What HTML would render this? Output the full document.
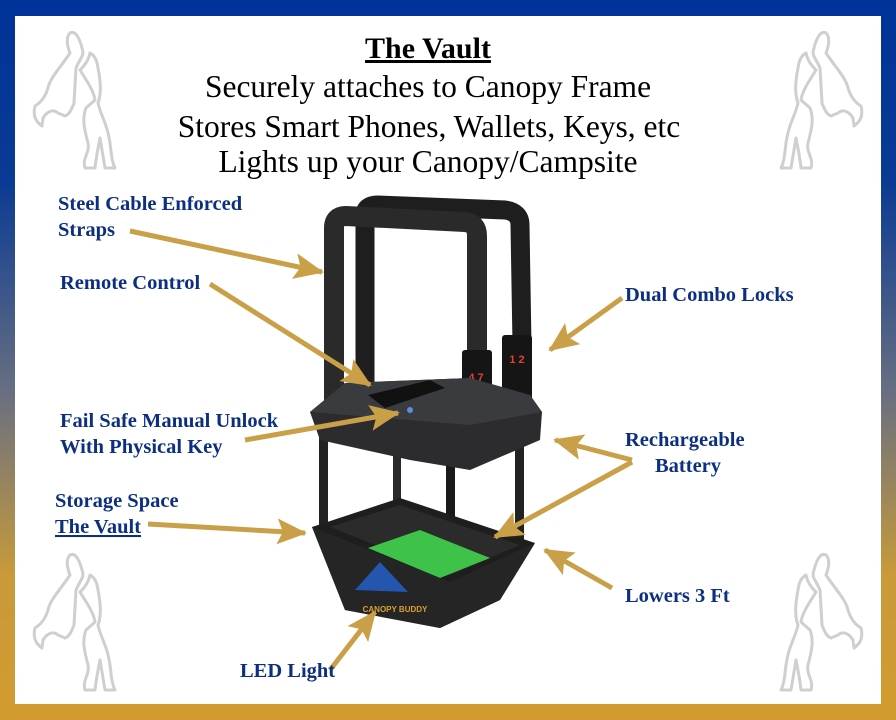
<!DOCTYPE html>
<html><head><meta charset="utf-8"><style>
html,body{margin:0;padding:0}
body{width:896px;height:720px;overflow:hidden;background:linear-gradient(180deg,#003399 0%,#0a3a94 25%,#6a7080 55%,#c89a3a 80%,#d39b2e 100%);position:relative}
.panel{position:absolute;left:15px;top:16px;width:866px;height:688px;background:#fff}
svg{position:absolute;left:0;top:0}
</style></head><body>
<div class="panel"></div>
<svg width="896" height="720" viewBox="0 0 896 720">
<defs>
<marker id="ah" markerUnits="userSpaceOnUse" markerWidth="30" markerHeight="26" refX="28" refY="13" orient="auto">
<path d="M0,0 L30,13 L0,26 L6,13 Z" fill="#c9a048"/>
</marker>
<g id="horse" fill="none" stroke="#cfcfcf" stroke-width="3" stroke-linejoin="round">
<path d="M60,25 C55,30 58,40 60,45 C50,60 40,70 38,80 C35,90 30,95 25,98 C22,110 28,115 32,118 L33,110 C36,105 42,100 48,105 L55,108 C60,106 62,100 64,95 L66,60 C70,50 75,48 72,40 C70,32 66,22 60,25 Z"/>
<path d="M80,45 C78,55 72,60 70,62 L75,70 C80,78 84,85 85,92 L76,100 C72,110 74,120 78,135 C80,145 72,150 75,160 L85,160 C86,150 88,140 90,130 L95,160 L105,160 C100,150 102,140 98,125 C96,115 90,105 88,95 C92,85 90,70 88,60 C87,52 84,47 80,45 Z"/>
</g>
</defs>
<use href="#horse" transform="translate(10,8)"/>
<use href="#horse" transform="translate(10,530)"/>
<use href="#horse" transform="translate(886,8) scale(-1,1)"/>
<use href="#horse" transform="translate(886,530) scale(-1,1)"/>

<g font-family="Liberation Serif, serif" text-anchor="middle" fill="#000">
<text x="428" y="58" font-size="30" font-weight="bold" text-decoration="underline">The Vault</text>
<text x="428" y="97" font-size="31.5">Securely attaches to Canopy Frame</text>
<text x="429" y="137" font-size="31.5">Stores Smart Phones, Wallets, Keys, etc</text>
<text x="428" y="172" font-size="31.5">Lights up your Canopy/Campsite</text>
</g>

<!-- product -->
<g>
<path d="M365,420 L365,215 Q365,205 378,205 L505,210 Q520,212 520,225 L522,345" fill="none" stroke="#1e1e1e" stroke-width="19"/>
<path d="M334,420 L334,228 Q334,216 346,216 L465,222 Q477,223 477,236 L477,360" fill="none" stroke="#2a2a2a" stroke-width="20"/>
<rect x="462" y="350" width="30" height="65" rx="3" fill="#151515"/>
<rect x="502" y="335" width="30" height="65" rx="3" fill="#151515"/>
<text x="476" y="381" font-family="Liberation Sans, sans-serif" font-size="11" fill="#e04030" text-anchor="middle" font-weight="bold">4 7</text>
<text x="517" y="363" font-family="Liberation Sans, sans-serif" font-size="11" fill="#e04030" text-anchor="middle" font-weight="bold">1 2</text>
<rect x="319" y="435" width="9" height="95" fill="#222"/>
<rect x="393" y="455" width="8" height="60" fill="#2a2a2a"/>
<rect x="446" y="455" width="9" height="125" fill="#1a1a1a"/>
<rect x="515" y="435" width="9" height="105" fill="#222"/>
<path d="M345,383 L470,378 L530,395 L542,412 L540,440 L470,470 L410,460 L320,440 L310,412 Z" fill="#2c2c2e"/>
<path d="M345,383 L470,378 L530,395 L542,412 L470,425 L310,412 Z" fill="#3a3b3f"/>
<path d="M368,395 L430,380 L445,388 L385,408 Z" fill="#111"/>
<circle cx="410" cy="410" r="3" fill="#5b8fd6"/>
<path d="M312,527 L400,498 L535,543 L500,600 L440,628 L345,610 Z" fill="#1e1e1e"/>
<path d="M330,527 L400,505 L520,545 L450,575 Z" fill="#2b2b2b"/>
<path d="M368,548 L420,530 L490,558 L440,578 Z" fill="#3fc24a"/>
<path d="M312,527 L345,540 L450,582 L535,543 L500,600 L440,628 L345,610 Z" fill="#252525"/>
<path d="M355,590 L380,562 L408,592 Z" fill="#2456b0"/>
<text x="395" y="612" font-family="Liberation Sans, sans-serif" font-size="8" fill="#d9a030" font-weight="bold" text-anchor="middle">CANOPY BUDDY</text>
</g>

<g stroke="#c9a048" stroke-width="5" marker-end="url(#ah)" fill="none">
<line x1="130" y1="231" x2="322" y2="272"/>
<line x1="210" y1="284" x2="370" y2="385"/>
<line x1="622" y1="298" x2="550" y2="350"/>
<line x1="245" y1="440" x2="398" y2="413"/>
<line x1="632" y1="460" x2="555" y2="440"/>
<line x1="632" y1="462" x2="495" y2="537"/>
<line x1="148" y1="524" x2="305" y2="533"/>
<line x1="612" y1="588" x2="545" y2="550"/>
<line x1="330" y1="670" x2="375" y2="612"/>
</g>

<g font-family="Liberation Serif, serif" font-size="20.5" font-weight="bold" fill="#0d2f82">
<text x="58" y="210">Steel Cable Enforced</text>
<text x="58" y="236">Straps</text>
<text x="60" y="289">Remote Control</text>
<text x="625" y="301">Dual Combo Locks</text>
<text x="60" y="427">Fail Safe Manual Unlock</text>
<text x="60" y="453">With Physical Key</text>
<text x="625" y="446">Rechargeable</text>
<text x="655" y="472">Battery</text>
<text x="55" y="507">Storage Space</text>
<text x="55" y="533" text-decoration="underline">The Vault</text>
<text x="625" y="602">Lowers 3 Ft</text>
<text x="240" y="677">LED Light</text>
</g>
</svg>
</body></html>
